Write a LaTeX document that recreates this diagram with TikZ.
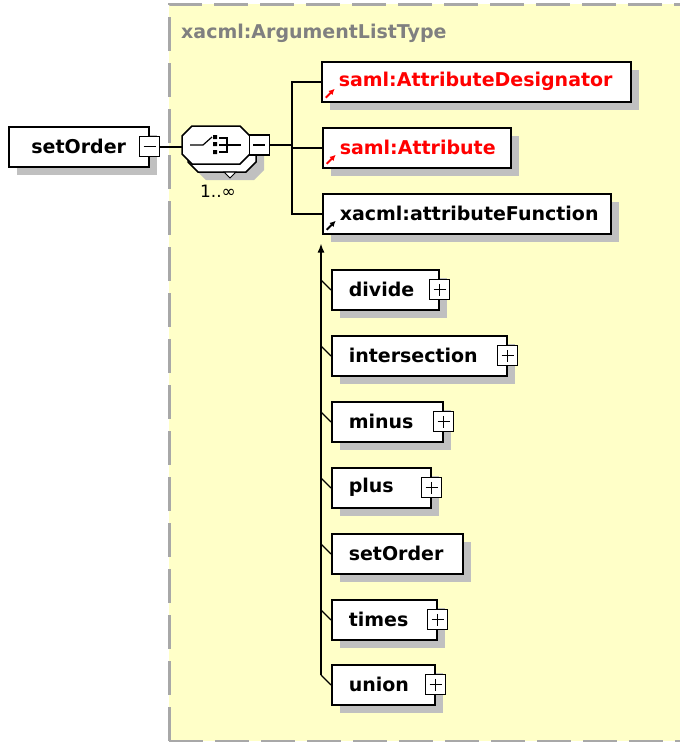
\documentclass[tikz,border=0pt]{standalone}
\usepackage{fontspec}
\setmainfont{DejaVu Sans}
\usetikzlibrary{shadows,arrows.meta}
\definecolor{panel}{HTML}{FFFFC8}
\definecolor{dropgray}{HTML}{C0C0C0}
\definecolor{rim}{HTML}{A8A8A8}
\definecolor{typegray}{HTML}{808080}
\tikzset{
  elem/.style = {
    draw, line width=1.5pt, fill=white, anchor=north west,
    minimum height=40pt, inner ysep=0pt, inner xsep=17pt,
    text width=#1, align=left,
    font=\bfseries\fontsize{19}{21}\selectfont,
    general shadow={fill=dropgray, shadow xshift=8pt, shadow yshift=-8pt}
  },
  refer/.style 2 args = {
    elem=#1, text=#2,
    path picture={\draw[#2,-{Latex[length=6pt,width=6pt]},line width=2pt] ([shift={(4pt,4pt)}]path picture bounding box.south west) -- ++(9pt,9pt);}
  },
  minusbox/.style = {
    draw, fill=white, line width=1.2pt, minimum size=20pt, inner sep=0pt,
    path picture={\draw[line width=1.2pt] ([xshift=4pt]path picture bounding box.west) -- ([xshift=-4pt]path picture bounding box.east);}
  },
  plusbox/.style = {
    draw, fill=white, line width=1.2pt, minimum size=20pt, inner sep=0pt,
    path picture={\draw[line width=1.2pt] ([xshift=4pt]path picture bounding box.west) -- ([xshift=-4pt]path picture bounding box.east);
      \draw[line width=1.2pt] ([yshift=-4pt]path picture bounding box.north) -- ([yshift=4pt]path picture bounding box.south);}
  },
  wire/.style = {line width=1.5pt},
  typename/.style = {text=typegray, font=\bfseries\fontsize{19}{21}\selectfont, inner sep=0pt}
}
\tikzset{>={Latex[length=9pt,width=7pt]}}

\begin{document}
\begin{tikzpicture}[x=1pt,y=-1pt]
  \useasboundingbox (0,0) rectangle (680,742);
  % complex type panel
  \fill[panel] (169,4) rectangle (700,741);
  \draw[rim,line width=3pt,dash pattern=on 34pt off 12pt] (169,741) -- (169,4) -- (700,4);
  \draw[rim,line width=3pt,dash pattern=on 34pt off 12pt] (169,741) -- (700,741);
  \node[typename,anchor=west] (type) at (181,33) {xacml:ArgumentListType};

  % root element
  \node[elem=106pt,align=center] (root) at (8,126) {setOrder};
  \node[minusbox] (rootpm) at (root.east) {};

  % sequence compositor
  \fill[dropgray] (196,142) ++(10,0) -- ++(48,0) -- ++(10,10) -- ++(0,18) -- ++(-10,10) -- ++(-48,0) -- ++(-10,-10) -- ++(0,-18) -- cycle;
  \draw[wire,fill=white] (188,134) ++(10,0) -- ++(48,0) -- ++(10,10) -- ++(0,18) -- ++(-10,10) -- ++(-48,0) -- ++(-10,-10) -- ++(0,-18) -- cycle;
  \draw[line width=1pt,fill=white] (224,172) -- (236,172) -- (230,178) -- cycle;
  \draw[wire,fill=white] (182,126) ++(10,0) -- ++(48,0) -- ++(10,10) -- ++(0,18) -- ++(-10,10) -- ++(-48,0) -- ++(-10,-10) -- ++(0,-18) -- cycle;
  \node[inner sep=0pt,minimum width=68pt,minimum height=38pt] (seq) at (216,145) {};
  \draw[line width=1.2pt] (190,145) -- (203,145) -- (212,137);
  \fill (213,135) rectangle (217,139) (213,142) rectangle (217,146) (213,150) rectangle (217,154);
  \draw[line width=1.2pt] (219,138) -- (227,138) -- (227,152) -- (219,152);
  \draw[line width=1.2pt] (219,145) -- (241,145);
  \node[minusbox] (seqpm) at ([xshift=9pt]seq.east) {};
  \node[font=\fontsize{17}{19}\selectfont] (card) at (218,191) {1..∞};

  % sequence members
  \node[refer={275pt}{red}] (desig) at (321,61) {saml:AttributeDesignator};
  \node[refer={154pt}{red}] (attr) at (322,127) {saml:Attribute};
  \node[refer={254pt}{black}] (func) at (322,193) {xacml:attributeFunction};

  \coordinate (fork) at ([xshift=22pt]seqpm.east);
  \draw[wire] (rootpm.east) -- (rootpm.east -| seq.west);
  \draw[wire] (seqpm.east) -- (fork);
  \draw[wire] (fork) |- (desig);
  \draw[wire] (fork) |- (attr);
  \draw[wire] (fork) |- (func);

  % substitution group
  \node[elem=73pt] (divide) at (331,269) {divide};
  \node[plusbox] (dividepm) at (divide.east) {};
  \node[elem=141pt] (intersection) at (331,335) {intersection};
  \node[plusbox] (intersectionpm) at (intersection.east) {};
  \node[elem=77pt] (minus) at (331,401) {minus};
  \node[plusbox] (minuspm) at (minus.east) {};
  \node[elem=65pt] (plus) at (331,467) {plus};
  \node[plusbox] (pluspm) at (plus.east) {};
  \node[elem=97pt] (setorder) at (331,533) {setOrder};
  \node[elem=71pt] (times) at (331,599) {times};
  \node[plusbox] (timespm) at (times.east) {};
  \node[elem=69pt] (union) at (331,664) {union};
  \node[plusbox] (unionpm) at (union.east) {};

  \coordinate (spinetop) at ([shift={(-1pt,-9pt)}]func.south west);
  \coordinate (spinebot) at ([shift={(-10pt,-11pt)}]union.north west);
  \draw[wire,->] (spinebot) -- (spinetop);
  \foreach \k in {divide,intersection,minus,plus,setorder,times,union}
    \draw[line width=1.2pt] ([yshift=-21pt]\k.north west) -- ++(-10,-10);
\end{tikzpicture}
\end{document}
